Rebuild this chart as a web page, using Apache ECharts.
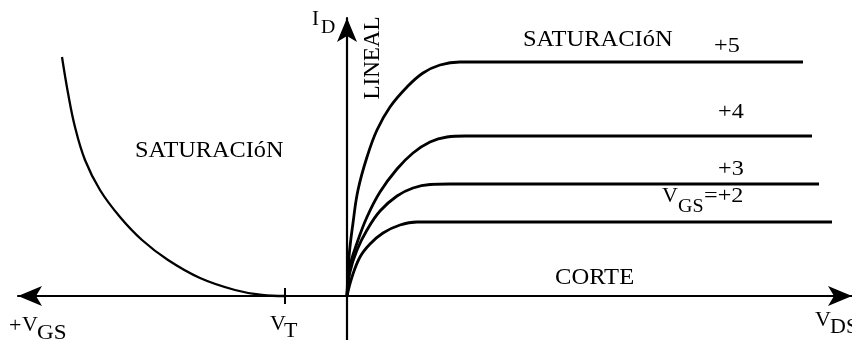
<!DOCTYPE html>
<html>
<head>
<meta charset="utf-8" />
<script src="https://cdn.jsdelivr.net/npm/echarts@6/dist/echarts.min.js"></script>
<style>
  html, body { margin: 0; padding: 0; background: #fff; }
  #chart { width: 852px; height: 340px; }
</style>
</head>
<body>
<div id="chart"></div>
<script>
// units: x ~ V (right of origin = VDS, left = VGS), y ~ ID
var curveVgs5 = [[0, 0], [0.2, 3.9], [0.6, 7.3], [1.1, 10.6], [2.0, 13.9], [3.0, 16.6], [4.3, 18.9], [6.0, 20.9], [7.6, 22.3], [9.3, 23.1], [11.3, 23.4], [13, 23.4], [45.6, 23.4]];
var curveVgs4 = [[0, 0], [0.3, 3.0], [1.0, 5.3], [2.0, 7.9], [3.3, 10.4], [5.0, 12.7], [6.6, 14.3], [8.3, 15.4], [10.0, 15.9], [11.8, 16.0], [46.5, 16.0]];
var curveVgs3 = [[0, 0], [0.3, 2.4], [1.0, 4.6], [2.0, 6.6], [3.3, 8.5], [5.0, 10.0], [6.6, 10.8], [8.3, 11.15], [10.3, 11.2], [47.2, 11.2]];
var curveVgs2 = [[0, 0], [0.5, 1.9], [1.3, 3.9], [2.3, 5.2], [3.6, 6.3], [5.3, 7.1], [7.0, 7.4], [8.8, 7.4], [48.5, 7.4]];
var transferCurve = [[-28.5, 23.9], [-27.9, 20.3], [-27.2, 16.9], [-26.2, 13.6], [-24.7, 10.6], [-22.7, 7.9], [-20.5, 5.6], [-17.9, 3.6], [-14.7, 1.8], [-11.2, 0.6], [-8.5, 0.1], [-6.2, 0]];
var vtTick = [[-6.2, -0.8], [-6.2, 0.8]];

var chart = echarts.init(document.getElementById('chart'));

var serif = '"Liberation Serif", "Times New Roman", serif';
function txt(s, x, y, size, sx) {
    return {
        type: 'text', x: x, y: y, z: 100, scaleX: sx || 1,
        style: { text: s, font: size + 'px ' + serif, fill: '#000', align: 'left', verticalAlign: 'middle' }
    };
}

function curve(data, w) {
    return {
        type: 'line', data: data, smooth: 0.4, showSymbol: false, symbol: 'none',
        lineStyle: { color: '#000', width: w }, silent: true
    };
}

var axisLine = function (sym) {
    return {
        show: true, onZero: true,
        symbol: sym.map(function (s) { return s ? 'arrow' : 'none'; }),
        symbolSize: [15, 24],
        lineStyle: { color: '#000', width: 2.2 }
    };
};

chart.setOption({
    animation: false,
    backgroundColor: '#fff',
    grid: { left: 18, right: 0, top: 18, bottom: 0 },
    xAxis: {
        type: 'value', min: -32.9, max: 50.5,
        axisLine: axisLine([true, true]),
        axisTick: { show: false }, axisLabel: { show: false }, splitLine: { show: false }
    },
    yAxis: {
        type: 'value', min: -4.4, max: 27.8,
        axisLine: axisLine([false, true]),
        axisTick: { show: false }, axisLabel: { show: false }, splitLine: { show: false }
    },
    series: [
        curve(curveVgs5, 2.8),
        curve(curveVgs4, 2.8),
        curve(curveVgs3, 2.8),
        curve(curveVgs2, 2.8),
        curve(transferCurve, 2.3),
        { type: 'line', data: vtTick, showSymbol: false, lineStyle: { color: '#000', width: 2 } }
    ],
    graphic: [
        txt('I', 312, 19, 21),
        txt('D', 321, 28, 18, 1.1),
        {
            type: 'text', x: 373, y: 58, z: 100, rotation: Math.PI / 2,
            style: { text: 'LINEAL', font: '23px ' + serif, fill: '#000', align: 'center', verticalAlign: 'middle' }
        },
        txt('SATURACIóN', 523, 40, 23, 1.065),
        txt('+5', 714, 46, 22, 1.1),
        txt('+4', 718, 112, 22, 1.1),
        txt('+3', 718, 169, 22, 1.1),
        txt('V', 662, 196, 22),
        txt('GS', 678, 207, 19, 1.05),
        txt('=+2', 704, 196, 22, 1.1),
        txt('SATURACIóN', 135, 151, 23, 1.057),
        txt('CORTE', 555, 278, 23, 1.07),
        txt('+', 9, 326, 22),
        txt('V', 22, 325, 22),
        txt('GS', 37, 333, 21, 1.1),
        txt('V', 270, 324, 22),
        txt('T', 284, 332, 20, 1.1),
        txt('V', 815, 320, 22),
        txt('DS', 830, 328, 20, 1.1)
    ]
});
</script>
</body>
</html>
